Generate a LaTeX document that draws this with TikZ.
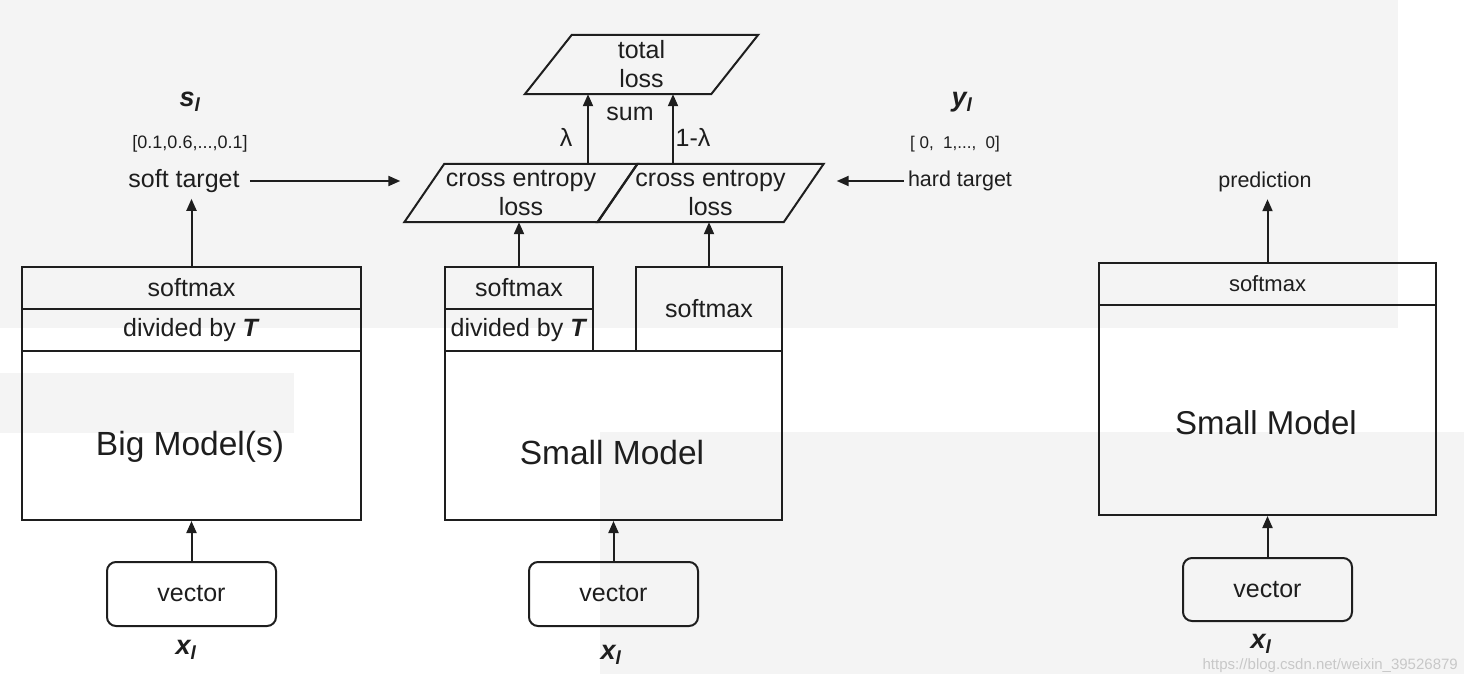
\documentclass[tikz,border=0pt]{standalone}
\usepackage{fontspec}
\setmainfont{Liberation Sans}
\usetikzlibrary{arrows.meta,calc}

\definecolor{panelgray}{HTML}{F4F4F4}
\definecolor{ink}{HTML}{1E1E1E}
\definecolor{marklight}{HTML}{C8C8C8}

\newcommand\fsz[1]{\fontsize{#1}{#1}\selectfont}

\begin{document}
\begin{tikzpicture}[x=1pt,y=-1pt,
  every node/.style={text=ink},
  cell/.style={draw=ink, line width=2pt, inner sep=0pt, font=\fsz{25}},
  vecbox/.style={draw=ink, line width=2pt, rounded corners=9pt, inner sep=0pt,
                 minimum width=169pt, minimum height=64pt, font=\fsz{25}},
  lbl/.style={inner sep=2pt, font=\fsz{25}},
  var/.style={inner sep=1pt, font=\fsz{27}\bfseries\itshape},
  arr/.style={draw=ink, line width=2pt, -{Triangle[length=12pt,width=10pt]}},
  para/.style={draw=ink, line width=2pt, line join=miter},
  ghost/.style={inner sep=0pt, align=center, font=\fontsize{25}{29}\selectfont}
]
\useasboundingbox (0,0) rectangle (1464,674);

% light gray panels behind the drawing
\fill[panelgray] (0,0) rectangle (1398,328);
\fill[panelgray] (0,373) rectangle (294,433);
\fill[panelgray] (600,432) rectangle (1464,674);

% ---------------- teacher ----------------
\node[cell, minimum width=339pt, minimum height=42pt] (bsm) at (191.5,288) {softmax};
\node[cell, minimum width=339pt, minimum height=42pt] (bdiv) at (191.5,330) {divided by \textbf{\textit{T}}};
\node[cell, minimum width=339pt, minimum height=169pt] (bmain) at (191.5,435.5) {};
\node[lbl, font=\fsz{33.5}] (bname) at (190,447) {Big Model(s)};
\node[vecbox] (v1) at (191.5,594) {vector};
\node[var] (x1) at (186,650) {x\textsubscript{l}};
\draw[arr] (v1.north) -- (bmain.south);

\node[lbl] (soft) at (184,181) {soft target};
\node[lbl, font=\fsz{18}] (softvec) at (190,144) {[0.1,0.6,...,0.1]};
\node[var] (sl) at (190,102) {s\textsubscript{l}};
\draw[arr] (bsm.north) -- ([yshift=-4pt]bsm.north |- soft.south);

% ---------------- losses ----------------
\node[ghost, minimum width=193pt, minimum height=58pt] (ce1) at (521,193) {cross entropy\\loss};
\node[ghost, minimum width=186pt, minimum height=58pt] (ce2) at (710.5,193) {cross entropy\\loss};
\node[ghost, minimum width=186pt, minimum height=59pt] (tot) at (641.5,64.5) {total\\loss};
\draw[para] ([xshift=20pt]ce1.north west) -- ([xshift=20pt]ce1.north east)
            -- ([xshift=-20pt]ce1.south east) -- ([xshift=-20pt]ce1.south west) -- cycle;
\draw[para] ([xshift=20pt]ce2.north west) -- ([xshift=20pt]ce2.north east)
            -- ([xshift=-20pt]ce2.south east) -- ([xshift=-20pt]ce2.south west) -- cycle;
\draw[para] ([xshift=23.5pt]tot.north west) -- ([xshift=23.5pt]tot.north east)
            -- ([xshift=-23.5pt]tot.south east) -- ([xshift=-23.5pt]tot.south west) -- cycle;

\draw[arr] ([xshift=67pt]ce1.north) -- ([xshift=67pt]ce1.north |- tot.south);
\draw[arr] ([xshift=-37.5pt]ce2.north) -- ([xshift=-37.5pt]ce2.north |- tot.south);
\node[lbl] (lam) at (566,137) {λ};
\node[lbl] (lam2) at (693,137) {1-λ};
\node[lbl] (sum) at (630,114) {sum};

\draw[arr, shorten <=8pt, shorten >=24pt] (soft.east) -- (soft.east -| ce1.west);

\node[lbl, font=\fsz{21.5}] (hard) at (960,181) {hard target};
\node[lbl, font=\fsz{17}] (hardvec) at (955,144) {[ 0,\ \ 1,...,\ \ 0]};
\node[var] (yl) at (962,102) {y\textsubscript{l}};
\draw[arr, shorten <=2pt, shorten >=33pt] (hard.west) -- (hard.west -| ce2.east);

% ---------------- student (training) ----------------
\node[cell, minimum width=148pt, minimum height=42pt] (msm) at (519,288) {softmax};
\node[cell, minimum width=148pt, minimum height=42pt] (mdiv) at (519,330) {divided by \textbf{\textit{T}}};
\node[cell, minimum width=146pt, minimum height=84pt] (msm2) at (709,309) {softmax};
\node[cell, minimum width=337pt, minimum height=169pt] (mmain) at (613.5,435.5) {};
\node[lbl, font=\fsz{33.5}] (mname) at (612,453) {Small Model};
\node[vecbox] (v2) at (613.5,594) {vector};
\node[var] (x2) at (611,655) {x\textsubscript{l}};
\draw[arr] (v2.north) -- (mmain.south);
\draw[arr] (msm.north) -- (msm.north |- ce1.south);
\draw[arr] (msm2.north) -- (msm2.north |- ce2.south);

% ---------------- student (inference) ----------------
\node[cell, minimum width=337pt, minimum height=42pt, font=\fsz{22}] (rsm) at (1267.5,284) {softmax};
\node[cell, minimum width=337pt, minimum height=210pt] (rmain) at (1267.5,410) {};
\node[lbl, font=\fsz{33}] (rname) at (1266,423) {Small Model};
\node[vecbox, minimum height=63pt] (v3) at (1267.5,589.5) {vector};
\node[var] (x3) at (1261,644) {x\textsubscript{l}};
\node[lbl, font=\fsz{21.5}] (pred) at (1265,182) {prediction};
\draw[arr] (v3.north) -- (rmain.south);
\draw[arr] (rsm.north) -- ([yshift=-5pt]rsm.north |- pred.south);

% source mark
\node[inner sep=0pt, anchor=east, text=marklight, font=\fsz{15}] (mark) at (1458,666) {https://blog.csdn.net/weixin\_39526879};
\end{tikzpicture}
\end{document}
